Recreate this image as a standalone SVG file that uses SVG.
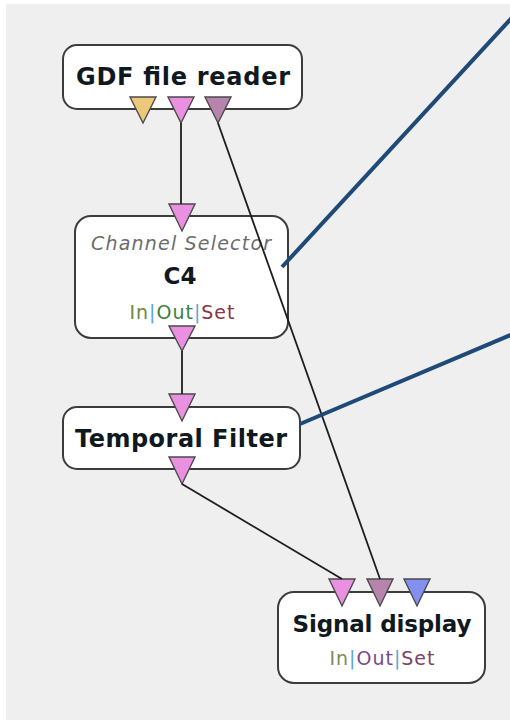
<svg xmlns="http://www.w3.org/2000/svg" width="510" height="720" viewBox="0 0 510 720">
  <defs>
    <style>
      .canvas { fill: #efefef; }
      .box { fill: #ffffff; stroke: #3c3c3c; stroke-width: 2; }
      .pin { stroke: #4a4a4a; stroke-width: 1.4; stroke-linejoin: miter; }
      .signal { fill: #ea90e0; }
      .stim { fill: #b784ac; }
      .info { fill: #ecc97a; }
      .matrix { fill: #8290f0; }
      .link { stroke: #1e1e1e; stroke-width: 1.8; fill: none; }
      .callout { stroke: #1f4a78; stroke-width: 4; fill: none; }
      .title { font-family: "DejaVu Sans", "Liberation Sans", sans-serif; font-weight: bold; fill: #101820; text-anchor: middle; }
      .kind { font-family: "DejaVu Sans", "Liberation Sans", sans-serif; font-style: italic; fill: #6c6c6c; text-anchor: middle; font-size: 19px; }
      .ios { font-family: "DejaVu Sans", "Liberation Sans", sans-serif; font-size: 19px; text-anchor: middle; }
      .sep { fill: #5aa6d6; }
    </style>
  </defs>

  <!-- designer canvas -->
  <rect x="0" y="0" width="510" height="720" fill="#ffffff"/>
  <rect class="canvas" x="6" y="4" width="504" height="716"/>

  <g id="gdf-file-reader">
    <rect class="box" x="63" y="45" width="239" height="64" rx="14"/>
    <text class="title" x="183" y="85" font-size="24" textLength="214">GDF file reader</text>
    <polygon class="pin info" points="130,97 156,97 143,123"/>
    <polygon class="pin signal" points="168,97 194,97 181,123"/>
    <polygon class="pin stim" points="205,97 231,97 218,123"/>
  </g>

  <g id="channel-selector">
    <rect class="box" x="75" y="216" width="213" height="122" rx="16"/>
    <polygon class="pin signal" points="169,204 195,204 182,231"/>
    <text class="kind" x="181" y="250" textLength="180">Channel Selector</text>
    <text class="title" x="180" y="284" font-size="23">C4</text>
    <text class="ios" x="182" y="319" textLength="105"><tspan fill="#6b8a3c">In</tspan><tspan class="sep">|</tspan><tspan fill="#3c8040">Out</tspan><tspan class="sep">|</tspan><tspan fill="#8a3446">Set</tspan></text>
    <polygon class="pin signal" points="169,326 195,326 182,351"/>
  </g>

  <g id="temporal-filter">
    <rect class="box" x="63" y="407" width="237" height="62" rx="14"/>
    <polygon class="pin signal" points="169,394 195,394 182,421"/>
    <text class="title" x="181" y="447" font-size="24" textLength="212">Temporal Filter</text>
    <polygon class="pin signal" points="169,457 195,457 182,484"/>
  </g>

  <g id="signal-display">
    <rect class="box" x="278" y="592" width="207" height="91" rx="16"/>
    <polygon class="pin signal" points="329,579 355,579 342,606"/>
    <polygon class="pin stim" points="367,579 393,579 380,606"/>
    <polygon class="pin matrix" points="404,579 430,579 417,606"/>
    <text class="title" x="382" y="632" font-size="23" textLength="179">Signal display</text>
    <text class="ios" x="382" y="665" textLength="105"><tspan fill="#7c8a58">In</tspan><tspan class="sep">|</tspan><tspan fill="#7a4a8c">Out</tspan><tspan class="sep">|</tspan><tspan fill="#7c4464">Set</tspan></text>
  </g>

  <!-- links between box pins, drawn over the boxes -->
  <g id="connectors">
    <line class="link" x1="181" y1="123" x2="181" y2="204"/>
    <line class="link" x1="218" y1="123" x2="380" y2="579"/>
    <line class="link" x1="182" y1="351" x2="182" y2="394"/>
    <line class="link" x1="182" y1="484" x2="342" y2="579"/>
  </g>

  <!-- annotation leaders -->
  <g id="callouts">
    <line class="callout" x1="282" y1="267" x2="530" y2="-2"/>
    <line class="callout" x1="300" y1="424" x2="520" y2="331"/>
  </g>
</svg>
